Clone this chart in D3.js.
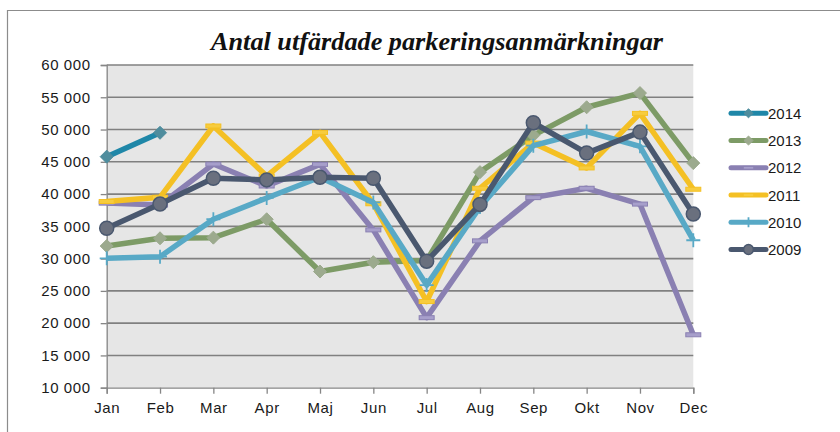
<!DOCTYPE html>
<html>
<head>
<meta charset="utf-8">
<script src="https://cdn.jsdelivr.net/npm/d3@7"></script>
<style>
  html, body { margin: 0; padding: 0; background: #fff; }
  svg { display: block; }
  text { font-family: "Liberation Sans", Arial, sans-serif; }
</style>
</head>
<body>
<div id="chart"></div>
<script>
// Antal utfärdade parkeringsanmärkningar per månad, 2009-2014
const months = ["Jan", "Feb", "Mar", "Apr", "Maj", "Jun", "Jul", "Aug", "Sep", "Okt", "Nov", "Dec"];
const yTicks = [10000, 15000, 20000, 25000, 30000, 35000, 40000, 45000, 50000, 55000, 60000];

const y2014 = [45800, 49500];
const y2013 = [31950, 33150, 33250, 36100, 28000, 29450, 29700, 43400, 49100, 53450, 55650, 44800];
const y2012 = [38600, 38300, 44650, 41250, 44600, 34450, 20850, 32750, 39450, 40900, 38450, 18200];
const y2011 = [38850, 39500, 50550, 42800, 49550, 38500, 23350, 40900, 47900, 44050, 52500, 40750];
const y2010 = [30050, 30300, 36100, 39400, 42600, 38700, 25900, 38000, 47500, 49700, 47400, 32850];
const y2009 = [34700, 38450, 42450, 42200, 42600, 42450, 29600, 38400, 51050, 46350, 49600, 36900];

const series = [
  { name: "2014", values: y2014, color: "#1f87a8", marker: "diamond", mfill: "#4f8d9e" },
  { name: "2013", values: y2013, color: "#7d9b66", marker: "diamond", mfill: "#9caa8e" },
  { name: "2012", values: y2012, color: "#8a80b2", marker: "dash", mfill: "#a79fcb" },
  { name: "2011", values: y2011, color: "#f4c024", marker: "dash", mfill: "#f7cc3e" },
  { name: "2010", values: y2010, color: "#58a9c6", marker: "plus", mfill: "#58a9c6" },
  { name: "2009", values: y2009, color: "#4a586f", marker: "circle", mfill: "#6a707e" }
];

const W = 840, H = 432;
const svg = d3.select("#chart").append("svg").attr("width", W).attr("height", H);

// chart frame (only top and left edges visible)
svg.append("path")
  .attr("d", `M7.5,${H}V10.5H${W}`)
  .attr("fill", "none").attr("stroke", "#8c8c8c").attr("stroke-width", 1.2);

// title
svg.append("text")
  .attr("x", 437).attr("y", 50)
  .attr("text-anchor", "middle")
  .attr("textLength", 452).attr("lengthAdjust", "spacingAndGlyphs")
  .style("font-family", "'Liberation Serif', 'DejaVu Serif', serif")
  .style("font-style", "italic").style("font-weight", "700")
  .style("font-size", "26px").style("fill", "#111")
  .text("Antal utfärdade parkeringsanmärkningar");

const x = d3.scalePoint().domain(months).range([106.7, 693.3]);
const y = d3.scaleLinear().domain([10000, 60000]).range([387.7, 65]);

const fmt = d3.formatLocale({ decimal: ",", thousands: "\u00a0", grouping: [3], currency: ["", ""] }).format(",");

// plot area
svg.append("rect")
  .attr("x", x.range()[0]).attr("y", y(60000))
  .attr("width", x.range()[1] - x.range()[0]).attr("height", y(10000) - y(60000))
  .attr("fill", "#e6e6e6");

// gridlines
svg.append("g").selectAll("line").data(yTicks.slice(1)).join("line")
  .attr("x1", x.range()[0]).attr("x2", x.range()[1])
  .attr("y1", d => y(d)).attr("y2", d => y(d))
  .attr("stroke", "#808080").attr("stroke-width", 1.6);

// axes
const yAxis = svg.append("g")
  .attr("transform", `translate(${x.range()[0]},0)`)
  .call(d3.axisLeft(y).tickValues(yTicks).tickFormat(fmt).tickSize(6).tickPadding(10));
const xAxis = svg.append("g")
  .attr("transform", `translate(0,${y(10000)})`)
  .call(d3.axisBottom(x).tickSize(6).tickPadding(9));

[yAxis, xAxis].forEach(a => {
  a.select(".domain").attr("stroke", "#868686").attr("stroke-width", 1.3);
  a.selectAll(".tick line").attr("stroke", "#868686").attr("stroke-width", 1.3);
  a.selectAll("text").style("font-family", "'Liberation Sans', Arial, sans-serif")
    .style("font-size", "15px").style("letter-spacing", "0.6px")
    .style("fill", "#1a1a1a").style("white-space", "pre");
});

// markers
function drawMarker(sel, s, scale) {
  const k = scale || 1;
  if (s.marker === "diamond") {
    const r = 6.5 * k;
    sel.append("path").attr("d", `M0,${-r}L${r},0L0,${r}L${-r},0Z`)
      .attr("fill", s.mfill).attr("stroke", s.mfill).attr("stroke-width", 1);
  } else if (s.marker === "circle") {
    sel.append("circle").attr("r", 7 * k)
      .attr("fill", s.mfill).attr("stroke", s.color).attr("stroke-width", 1.5);
  } else if (s.marker === "dash") {
    sel.append("rect").attr("x", -7.5 * k).attr("y", -2 * k).attr("width", 15 * k).attr("height", 4 * k)
      .attr("fill", s.mfill).attr("stroke", s.color).attr("stroke-width", 1);
  } else if (s.marker === "plus") {
    const r = 7 * k;
    sel.append("path").attr("d", `M${-r},0H${r}M0,${-r}V${r}`)
      .attr("stroke", s.mfill).attr("stroke-width", 1.8);
  }
}

const line = d3.line().x((d, i) => x(months[i])).y(d => y(d));

const plot = svg.append("g");
series.forEach(s => {
  const g = plot.append("g");
  g.append("path").datum(s.values)
    .attr("d", line)
    .attr("fill", "none").attr("stroke", s.color)
    .attr("stroke-width", 5.5).attr("stroke-linejoin", "round");
  g.selectAll("g.m").data(s.values).join("g").attr("class", "m")
    .attr("transform", (d, i) => `translate(${x(months[i])},${y(d)})`)
    .each(function () { drawMarker(d3.select(this), s); });
});

// legend
const legendY = d3.scalePoint().domain(series.map(s => s.name)).range([113.3, 249.5]);
const legend = svg.append("g");
series.forEach(s => {
  const g = legend.append("g").attr("transform", `translate(0,${legendY(s.name)})`);
  g.append("line").attr("x1", 731).attr("x2", 766)
    .attr("stroke", s.color).attr("stroke-width", 5).attr("stroke-linecap", "round");
  const m = g.append("g").attr("transform", "translate(748.5,0)");
  drawMarker(m, s, 0.7);
  g.append("text").attr("x", 768).attr("y", 5.5)
    .style("font-size", "15px").style("fill", "#1a1a1a")
    .text(s.name);
});
</script>
</body>
</html>
